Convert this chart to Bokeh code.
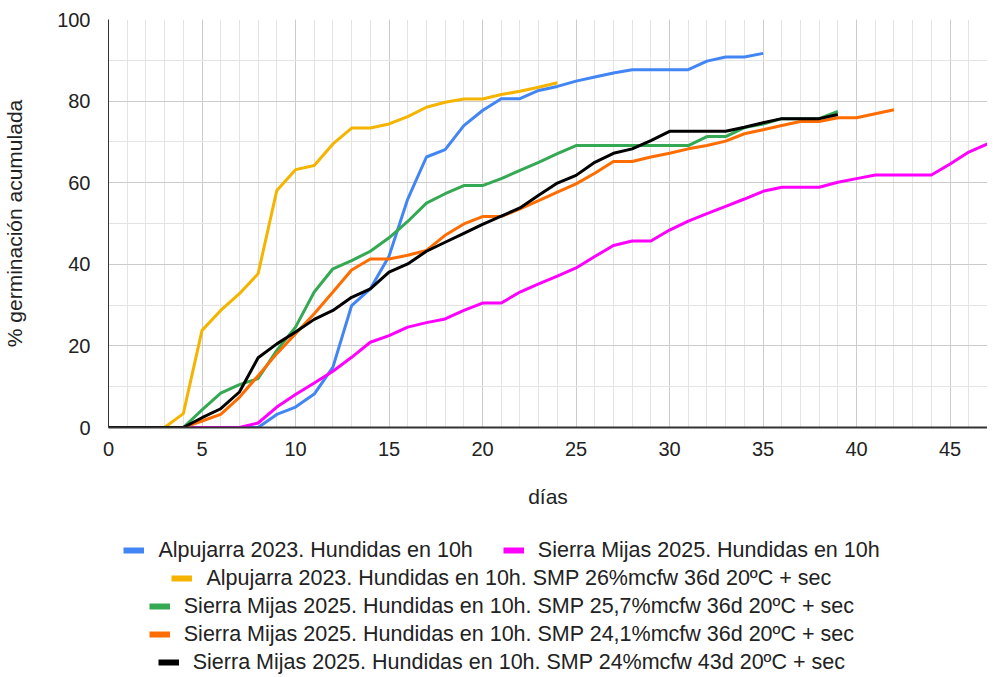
from bokeh.plotting import figure
from bokeh.models import Range1d, SingleIntervalTicker, Legend, LegendItem
from bokeh.layouts import column
from bokeh.embed import file_html
from bokeh.resources import INLINE

# ---- data ----
alp_days = list(range(0, 36))
alp_vals = [0, 0, 0, 0, 0, 0, 0, 0, 0, 3.2, 5.0, 8.2, 14.8, 29.9, 34.0, 42.0, 56.0, 66.3,
            68.1, 74.0, 77.7, 80.6, 80.6, 82.6, 83.6, 84.9, 85.9, 86.9, 87.7, 87.7, 87.7,
            87.7, 89.8, 90.8, 90.8, 91.7]

mij_days = list(range(0, 48))
mij_vals = [0, 0, 0, 0, 0, 0, 0, 0, 1.1, 5.0, 8.1, 10.9, 13.8, 17.2, 20.9, 22.5, 24.6, 25.7,
            26.6, 28.7, 30.5, 30.5, 33.2, 35.2, 37.1, 39.1, 41.9, 44.6, 45.7, 45.7, 48.4,
            50.6, 52.4, 54.2, 56.0, 57.9, 58.9, 58.9, 58.9, 60.1, 61.0, 61.9, 61.9, 61.9,
            61.9, 64.6, 67.5, 69.5]

alp_smp_days = list(range(0, 25))
alp_smp_vals = [0, 0, 0, 0, 3.4, 23.8, 28.7, 32.8, 37.7, 58.1, 63.2, 64.2, 69.5, 73.4, 73.4,
                74.4, 76.2, 78.5, 79.7, 80.5, 80.5, 81.6, 82.4, 83.4, 84.5]

mij257_days = list(range(0, 40))
mij257_vals = [0, 0, 0, 0, 0, 4.3, 8.4, 10.5, 12.0, 18.9, 24.6, 33.2, 38.9, 40.9, 43.2, 46.5,
               50.5, 55.0, 57.3, 59.3, 59.3, 61.0, 63.0, 65.0, 67.1, 69.1, 69.1, 69.1, 69.1,
               69.1, 69.1, 69.1, 71.3, 71.3, 73.5, 74.4, 75.7, 75.7, 75.7, 77.5]

mij241_days = list(range(0, 43))
mij241_vals = [0, 0, 0, 0, 0, 1.6, 3.2, 7.4, 12.7, 18.1, 23.0, 27.9, 33.2, 38.6, 41.3, 41.3,
               42.2, 43.4, 47.1, 49.9, 51.7, 51.7, 53.6, 55.6, 57.7, 59.7, 62.3, 65.2, 65.2,
               66.3, 67.2, 68.3, 69.1, 70.2, 72.0, 73.0, 74.0, 75.0, 75.0, 75.9, 75.9, 76.9,
               77.9]

mij24_days = list(range(0, 40))
mij24_vals = [0, 0, 0, 0, 0, 2.4, 4.6, 8.7, 17.1, 20.5, 23.4, 26.5, 28.7, 31.9, 34.0, 38.1,
              40.1, 43.2, 45.4, 47.6, 49.8, 51.8, 53.8, 56.9, 59.9, 61.8, 65.0, 67.2, 68.3,
              70.3, 72.6, 72.6, 72.6, 72.6, 73.6, 74.7, 75.7, 75.7, 75.7, 76.7]

series_names = [
    "Alpujarra 2023. Hundidas en 10h",
    "Sierra Mijas 2025. Hundidas en 10h",
    "Alpujarra 2023. Hundidas en 10h. SMP 26%mcfw 36d 20ºC + sec",
    "Sierra Mijas 2025. Hundidas en 10h. SMP 25,7%mcfw 36d 20ºC + sec",
    "Sierra Mijas 2025. Hundidas en 10h. SMP 24,1%mcfw 36d 20ºC + sec",
    "Sierra Mijas 2025. Hundidas en 10h. SMP 24%mcfw 43d 20ºC + sec",
]
series_colors = ["#4285F4", "#FF00FF", "#F4B400", "#34A853", "#FF6D01", "#000000"]
series_data = [(alp_days, alp_vals), (mij_days, mij_vals), (alp_smp_days, alp_smp_vals),
               (mij257_days, mij257_vals), (mij241_days, mij241_vals), (mij24_days, mij24_vals)]
legend_rows = [[0, 1], [2], [3], [4], [5]]

x_title = "días"
y_title = "% germinación acumulada"
x_ticks_interval = 5
y_ticks_interval = 20

FONT = "Liberation Sans"
TXT = "#222222"
LEG_FS = 21.5

# Arial / Liberation Sans advance widths (1/1000 em) for legend layout
AW = {" ": 278, "%": 889, "+": 584, ",": 278, ".": 278, "A": 667, "C": 722, "H": 722,
      "M": 833, "P": 667, "S": 667, "a": 556, "c": 500, "d": 556, "e": 556, "f": 278,
      "h": 556, "i": 222, "j": 222, "l": 222, "m": 833, "n": 556, "p": 556, "r": 333,
      "s": 500, "u": 556, "w": 722, "º": 365}


def text_w(s, fs):
    return sum(AW.get(ch, 556) for ch in s) / 1000.0 * fs


FRAME_LEFT = 108
FIG_W = 987
LEGEND_CENTER = 501.5

# ---- main chart ----
p = figure(width=FIG_W, height=536, x_range=Range1d(0, 47), y_range=Range1d(0, 100),
           output_backend="svg", toolbar_location=None,
           min_border_left=FRAME_LEFT, min_border_right=0, min_border_top=19,
           min_border_bottom=109)
p.outline_line_color = None
p.background_fill_color = "white"
p.border_fill_color = "white"

p.xaxis.ticker = SingleIntervalTicker(interval=x_ticks_interval, num_minor_ticks=5)
p.yaxis.ticker = SingleIntervalTicker(interval=y_ticks_interval, num_minor_ticks=2)
for g in (p.xgrid, p.ygrid):
    g.grid_line_color = "#cccccc"
    g.grid_line_width = 1
    g.minor_grid_line_color = "#e4e4e4"
    g.minor_grid_line_width = 1

p.axis.major_tick_line_color = None
p.axis.minor_tick_line_color = None
p.axis.major_label_text_font = FONT
p.axis.major_label_text_font_size = "20px"
p.axis.major_label_text_color = TXT
p.axis.axis_label_text_font = FONT
p.axis.axis_label_text_font_size = "21px"
p.axis.axis_label_text_font_style = "normal"
p.axis.axis_label_text_color = TXT
p.axis.axis_line_color = "#333333"
p.xaxis.axis_line_width = 2
p.yaxis.axis_line_width = 1
p.yaxis.major_label_standoff = 12
p.xaxis.major_label_standoff = 8
p.xaxis.axis_label = x_title
p.yaxis.axis_label = y_title
p.xaxis.axis_label_standoff = 26
p.yaxis.axis_label_standoff = 28

for (xs, ys), c in zip(series_data, series_colors):
    p.line(xs, ys, line_color=c, line_width=3)

# ---- legend strips: one small figure per legend row ----
GW, STAND, SPACING, ROW_H = 21, 14, 30, 28
strips = []
for row in legend_rows:
    f = figure(width=FIG_W, height=ROW_H, x_range=Range1d(0, 1), y_range=Range1d(0, 1),
               output_backend="svg", toolbar_location=None,
               x_axis_type=None, y_axis_type=None,
               min_border_left=FRAME_LEFT, min_border_right=0, min_border_top=0,
               min_border_bottom=0)
    f.outline_line_color = None
    f.xgrid.visible = False
    f.ygrid.visible = False
    items = []
    for i in row:
        sw = f.line([float("nan")], [float("nan")], line_color=series_colors[i],
                    line_width=6)
        items.append(LegendItem(label=series_names[i], renderers=[sw]))
    w = sum(GW + STAND + text_w(series_names[i], LEG_FS) for i in row) + SPACING * (len(row) - 1)
    x_off = LEGEND_CENTER - FRAME_LEFT - w / 2.0
    lg = Legend(items=items, orientation="horizontal", location=(x_off, 0),
                label_text_font=FONT, label_text_font_size=f"{LEG_FS}px",
                label_text_color=TXT,
                glyph_width=GW, glyph_height=ROW_H, label_height=ROW_H,
                label_standoff=STAND, spacing=SPACING, padding=0, margin=0,
                border_line_color=None, background_fill_alpha=0)
    f.add_layout(lg, "center")
    strips.append(f)

layout = column(p, *strips, spacing=0)
open("out.html", "w").write(file_html(layout, INLINE))
